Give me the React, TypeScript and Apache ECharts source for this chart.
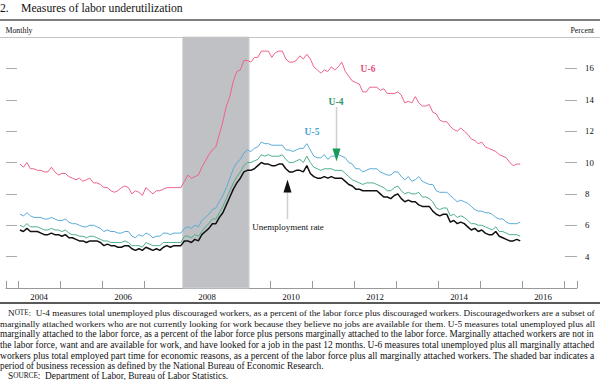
import React, { useEffect, useRef } from "react";
import * as echarts from "echarts";

const START_YEAR = 2004;

// Monthly values, Jan 2004 – Dec 2015 (percent)
const unemploymentRate = [
  5.7, 5.6, 5.8, 5.6, 5.6, 5.6, 5.5, 5.4, 5.4, 5.5, 5.4, 5.4,
  5.3, 5.4, 5.2, 5.2, 5.1, 5.0, 5.0, 4.9, 5.0, 5.0, 5.0, 4.9,
  4.7, 4.8, 4.7, 4.7, 4.6, 4.6, 4.7, 4.7, 4.5, 4.4, 4.5, 4.4,
  4.6, 4.5, 4.4, 4.5, 4.4, 4.6, 4.7, 4.6, 4.7, 4.7, 4.7, 5.0,
  5.0, 4.9, 5.1, 5.0, 5.4, 5.6, 5.8, 6.1, 6.1, 6.5, 6.8, 7.3,
  7.8, 8.3, 8.7, 9.0, 9.4, 9.5, 9.5, 9.6, 9.8, 10.0, 9.9, 9.9,
  9.8, 9.8, 9.9, 9.9, 9.6, 9.4, 9.4, 9.5, 9.5, 9.4, 9.8, 9.3,
  9.1, 9.0, 9.0, 9.1, 9.0, 9.1, 9.0, 9.0, 9.0, 8.8, 8.6, 8.5,
  8.3, 8.3, 8.2, 8.2, 8.2, 8.2, 8.2, 8.0, 7.8, 7.8, 7.7, 7.9,
  8.0, 7.7, 7.5, 7.6, 7.5, 7.5, 7.3, 7.2, 7.2, 7.2, 6.9, 6.7,
  6.6, 6.7, 6.7, 6.2, 6.3, 6.1, 6.2, 6.1, 5.9, 5.7, 5.8, 5.6,
  5.7, 5.5, 5.4, 5.4, 5.6, 5.3, 5.2, 5.1, 5.0, 5.0, 5.1, 5.0,
];

const u4 = [
  6.0, 5.9, 6.1, 5.9, 5.9, 5.9, 5.8, 5.7, 5.7, 5.8, 5.7, 5.7,
  5.6, 5.7, 5.5, 5.4, 5.4, 5.3, 5.3, 5.2, 5.3, 5.3, 5.2, 5.1,
  5.0, 5.0, 4.9, 4.9, 4.9, 4.9, 5.0, 4.9, 4.7, 4.7, 4.7, 4.6,
  4.9, 4.8, 4.7, 4.7, 4.7, 4.9, 4.9, 4.9, 4.9, 4.9, 4.9, 5.3,
  5.3, 5.2, 5.4, 5.3, 5.6, 5.9, 6.1, 6.4, 6.4, 6.8, 7.2, 7.7,
  8.2, 8.7, 9.1, 9.4, 9.8, 10.0, 10.0, 10.1, 10.2, 10.5, 10.4, 10.5,
  10.4, 10.4, 10.4, 10.5, 10.2, 10.0, 10.0, 10.1, 10.2, 10.0, 10.4, 10.0,
  9.7, 9.6, 9.5, 9.6, 9.6, 9.6, 9.5, 9.5, 9.5, 9.3, 9.1, 8.9,
  8.8, 8.7, 8.6, 8.7, 8.7, 8.7, 8.6, 8.5, 8.4, 8.2, 8.2, 8.4,
  8.5, 8.2, 8.0, 8.1, 8.0, 8.0, 8.1, 7.8, 7.8, 7.7, 7.5, 7.1,
  7.0, 7.1, 7.1, 6.6, 6.7, 6.5, 6.6, 6.5, 6.3, 6.1, 6.1, 6.0,
  6.0, 5.9, 5.8, 5.7, 5.9, 5.6, 5.6, 5.5, 5.4, 5.4, 5.4, 5.3,
];

const u5 = [
  6.7, 6.6, 6.8, 6.6, 6.5, 6.5, 6.5, 6.4, 6.4, 6.5, 6.4, 6.3,
  6.3, 6.4, 6.2, 6.1, 6.1, 6.0, 5.9, 5.9, 6.0, 6.0, 5.9, 5.8,
  5.6, 5.7, 5.6, 5.6, 5.5, 5.5, 5.6, 5.6, 5.3, 5.2, 5.4, 5.3,
  5.5, 5.4, 5.2, 5.3, 5.3, 5.5, 5.5, 5.4, 5.5, 5.5, 5.5, 5.8,
  5.9, 5.8, 6.0, 5.9, 6.3, 6.5, 6.7, 7.0, 7.1, 7.5, 7.9, 8.4,
  9.0, 9.6, 10.0, 10.2, 10.6, 10.8, 10.7, 10.9, 11.0, 11.3, 11.2, 11.2,
  11.1, 11.1, 11.1, 11.1, 10.8, 10.8, 10.7, 10.8, 10.9, 10.9, 11.2, 10.8,
  10.4, 10.3, 10.3, 10.5, 10.2, 10.4, 10.4, 10.5, 10.4, 10.3, 10.0, 9.9,
  9.6, 9.6, 9.4, 9.5, 9.6, 9.6, 9.6, 9.4, 9.3, 9.2, 9.2, 9.4,
  9.4, 9.1, 8.9, 9.1, 8.8, 8.9, 9.1, 8.8, 8.7, 8.6, 8.6, 8.2,
  8.1, 8.1, 8.1, 7.9, 7.7, 7.5, 7.6, 7.5, 7.4, 7.2, 7.0, 6.9,
  6.9, 6.8, 6.8, 6.7, 6.5, 6.4, 6.4, 6.2, 6.1, 6.1, 6.1, 6.2,
];

const u6 = [
  9.9, 9.7, 10.0, 9.6, 9.6, 9.5, 9.5, 9.4, 9.4, 9.7, 9.4, 9.2,
  9.3, 9.3, 9.1, 9.0, 8.9, 9.0, 8.8, 8.9, 9.0, 8.7, 8.7, 8.6,
  8.4, 8.4, 8.2, 8.1, 8.2, 8.4, 8.5, 8.4, 8.0, 8.2, 8.1, 7.9,
  8.4, 8.2, 8.0, 8.2, 8.2, 8.3, 8.4, 8.4, 8.4, 8.4, 8.4, 8.8,
  9.2, 9.0, 9.1, 9.2, 9.7, 10.1, 10.5, 10.8, 11.0, 11.8, 12.6, 13.6,
  14.2, 15.2, 15.8, 15.9, 16.5, 16.5, 16.4, 16.7, 16.7, 17.1, 17.1, 17.1,
  16.7, 17.0, 17.1, 17.1, 16.6, 16.4, 16.4, 16.5, 16.8, 16.6, 16.9, 16.6,
  16.1, 15.9, 15.7, 15.9, 15.8, 16.1, 15.9, 16.1, 16.4, 15.8, 15.5, 15.2,
  15.1, 15.0, 14.5, 14.5, 14.8, 14.8, 14.8, 14.6, 14.7, 14.4, 14.4, 14.4,
  14.5, 14.3, 13.8, 13.9, 13.8, 14.2, 13.8, 13.6, 13.6, 13.7, 13.2, 13.1,
  12.7, 12.6, 12.6, 12.3, 12.1, 12.0, 12.2, 12.0, 11.8, 11.5, 11.4, 11.2,
  11.3, 11.0, 10.9, 10.8, 10.7, 10.5, 10.4, 10.3, 10.0, 9.8, 9.9, 9.9,
];

const recessionStart = 2007.917;
const recessionEnd = 2009.5;
const yTickValues = [4, 6, 8, 10, 12, 14, 16];
const yearTickValues = [2004, 2005, 2006, 2007, 2008, 2009, 2010, 2011, 2012, 2013, 2014, 2015, 2016, 2017];
const yearLabelValues = [2004, 2006, 2008, 2010, 2012, 2014, 2016];

const titleNumber = "2.";
const titleText = "Measures of labor underutilization";
const noteLabel = "NOTE";
const noteLines = [
  ":  U-4 measures total unemployed plus discouraged workers, as a percent of the labor force plus discouraged workers. Discouragedworkers are a subset of",
  "marginally attached workers who are not currently looking for work because they believe no jobs are available for them. U-5 measures total unemployed plus all",
  "marginally attached to the labor force, as a percent of the labor force plus persons marginally attached to the labor force. Marginally attached workers are not in",
  "the labor force, want and are available for work, and have looked for a job in the past 12 months. U-6 measures total unemployed plus all marginally attached",
  "workers plus total employed part time for economic reasons, as a percent of the labor force plus all marginally attached workers. The shaded bar indicates a",
  "period of business recession as defined by the National Bureau of Economic Research.",
];
const sourceLabel = "SOURCE";
const sourceText = ":  Department of Labor, Bureau of Labor Statistics.";

const SERIF = "'Liberation Serif', 'Times New Roman', 'DejaVu Serif', serif";
const C_U6 = "#ee6389";
const C_U5 = "#5aaad6";
const C_U4 = "#4fae8c";
const C_UR = "#111111";

function toSeries(vals: number[]) {
  return vals.map((v, i) => [START_YEAR + (i + 0.5) / 12, v]);
}

let ctx: CanvasRenderingContext2D | null = null;
function measure(text: string, size: number, weight = "normal") {
  if (!ctx) {
    const c = document.createElement("canvas");
    ctx = c.getContext("2d");
  }
  if (!ctx) return text.length * size * 0.45;
  ctx.font = `${weight} ${size}px ${SERIF}`;
  return ctx.measureText(text).width;
}
function fitSize(text: string, width: number, weight = "normal") {
  return (width / measure(text, 10, weight)) * 10;
}
function capsWidth(label: string, rest: string) {
  return (
    measure(label[0], 10) + measure(label.slice(1), 10 * 0.78) + measure(rest, 10)
  ) / 10;
}

export default function App() {
  const ref = useRef<HTMLDivElement>(null);

  useEffect(() => {
    document.body.style.margin = "0";
    if (!ref.current) return;
    const chart = echarts.init(ref.current, undefined, { renderer: "svg" });

    const titleSize = fitSize(titleText, 162);
    const graphics: any[] = [];

    graphics.push(
      { type: "text", x: 0, y: 8, style: { text: titleNumber, fontFamily: SERIF, fontSize: titleSize, fill: "#111", verticalAlign: "middle" } },
      { type: "text", x: 21, y: 8, style: { text: titleText, fontFamily: SERIF, fontSize: titleSize, fill: "#111", verticalAlign: "middle" } },
      { type: "line", shape: { x1: 0, y1: 20, x2: 600, y2: 20 }, style: { stroke: "#555", lineWidth: 1.5 } },
      { type: "text", x: 5.5, y: 30, style: { text: "Monthly", fontFamily: SERIF, fontSize: fitSize("Monthly", 27), fill: "#111", verticalAlign: "middle" } },
      { type: "text", x: 594, y: 30, style: { text: "Percent", fontFamily: SERIF, fontSize: fitSize("Percent", 23.5), fill: "#111", align: "right", verticalAlign: "middle" } },
      { type: "line", z: 100, shape: { x1: 0, y1: 37.5, x2: 600, y2: 37.5 }, style: { stroke: "#c4c4c4", lineWidth: 1 } },
      { type: "line", shape: { x1: 0, y1: 303, x2: 600, y2: 303 }, style: { stroke: "#222", lineWidth: 1.5 } },
      // series labels
      { type: "text", x: 368, y: 69, style: { text: "U-6", fontFamily: SERIF, fontWeight: "bold", fontSize: 9.5, fill: "#e5517a", align: "center", verticalAlign: "middle" } },
      { type: "text", x: 336, y: 101.5, style: { text: "U-4", fontFamily: SERIF, fontWeight: "bold", fontSize: 9.5, fill: "#2f9a6c", align: "center", verticalAlign: "middle" } },
      { type: "text", x: 312, y: 131.5, style: { text: "U-5", fontFamily: SERIF, fontWeight: "bold", fontSize: 9.5, fill: "#4a9fd0", align: "center", verticalAlign: "middle" } },
      { type: "text", x: 288, y: 226.5, style: { text: "Unemployment rate", fontFamily: SERIF, fontSize: 9, fill: "#111", align: "center", verticalAlign: "middle" } },
      // arrows
      { type: "line", z: 50, shape: { x1: 336.5, y1: 107, x2: 336.5, y2: 150 }, style: { stroke: "#cfcfcf", lineWidth: 1.5 } },
      { type: "polygon", z: 60, shape: { points: [[332.5, 148.5], [340.5, 148.5], [336.5, 161.5]] }, style: { fill: "#179a5a" } },
      { type: "line", z: 50, shape: { x1: 287.5, y1: 192, x2: 287.5, y2: 219 }, style: { stroke: "#cfcfcf", lineWidth: 1.5 } },
      { type: "polygon", z: 60, shape: { points: [[283.5, 192.5], [291.5, 192.5], [287.5, 179.5]] }, style: { fill: "#111" } }
    );

    // Note lines
    const noteTop = 313;
    const step = 10.5;
    const right = 595;
    const s0 = (right - 8) / capsWidth(noteLabel, noteLines[0]);
    const sizes: number[] = [s0];
    for (let i = 1; i < 5; i++) sizes.push(fitSize(noteLines[i], right));
    const avg = sizes.reduce((a, b) => a + b, 0) / sizes.length;
    sizes.push(avg);
    noteLines.forEach((line, i) => {
      const s = sizes[i];
      if (i === 0) {
        graphics.push({
          type: "text", x: 8, y: noteTop,
          style: {
            text: `{a|${noteLabel[0]}}{b|${noteLabel.slice(1)}}{a|${line}}`,
            verticalAlign: "middle",
            rich: {
              a: { fontFamily: SERIF, fontSize: s, fill: "#111" },
              b: { fontFamily: SERIF, fontSize: s * 0.78, fill: "#111" },
            },
          },
        });
      } else {
        graphics.push({
          type: "text", x: 0, y: noteTop + step * i,
          style: { text: line, fontFamily: SERIF, fontSize: s, fill: "#111", verticalAlign: "middle" },
        });
      }
    });
    graphics.push({
      type: "text", x: 8, y: noteTop + step * 6,
      style: {
        text: `{a|${sourceLabel[0]}}{b|${sourceLabel.slice(1)}}{a|${sourceText}}`,
        verticalAlign: "middle",
        rich: {
          a: { fontFamily: SERIF, fontSize: avg, fill: "#111" },
          b: { fontFamily: SERIF, fontSize: avg * 0.78, fill: "#111" },
        },
      },
    });

    const lineSeries = (name: string, vals: number[], color: string, width: number, z: number) => ({
      name,
      type: "line",
      data: toSeries(vals),
      showSymbol: false,
      symbol: "none",
      z,
      lineStyle: { color, width },
      emphasis: { disabled: true },
    });

    chart.setOption({
      animation: false,
      grid: { left: 6, right: 23, top: 37, bottom: 92 },
      xAxis: {
        type: "value",
        min: 2003.71,
        max: 2017.31,
        axisLine: { show: true, lineStyle: { color: "#999", width: 1 } },
        axisTick: {
          show: true,
          inside: true,
          length: 7,
          customValues: [2003.71, ...yearTickValues, 2017.31],
          lineStyle: { color: "#999", width: 1 },
        },
        axisLabel: {
          customValues: yearLabelValues.map((y) => y + 0.5),
          formatter: (v: number) => String(Math.floor(v)),
          fontFamily: SERIF,
          fontSize: 8.8,
          color: "#111",
          margin: 4,
        },
        splitLine: { show: false },
      },
      yAxis: [
        {
          type: "value",
          position: "right",
          min: 2,
          max: 18,
          axisLine: { show: false },
          axisTick: { show: true, inside: true, length: 12, customValues: yTickValues, lineStyle: { color: "#aaa" } },
          axisLabel: { customValues: yTickValues, fontFamily: SERIF, fontSize: 8.8, color: "#111", margin: 8 },
          splitLine: { show: false },
        },
        {
          type: "value",
          position: "left",
          min: 2,
          max: 18,
          axisLine: { show: false },
          axisTick: { show: true, inside: true, length: 11, customValues: yTickValues, lineStyle: { color: "#aaa" } },
          axisLabel: { show: false },
          splitLine: { show: false },
        },
      ],
      series: [
        {
          name: "recession",
          type: "line",
          data: [],
          z: 1,
          markArea: {
            silent: true,
            itemStyle: { color: "#c0c1c4", borderColor: "#d4d5d7", borderWidth: 1 },
            data: [[{ xAxis: recessionStart }, { xAxis: recessionEnd }]],
          },
        },
        lineSeries("U-6", u6, C_U6, 1, 3),
        lineSeries("U-5", u5, C_U5, 1, 3),
        lineSeries("U-4", u4, C_U4, 1, 3),
        lineSeries("Unemployment rate", unemploymentRate, C_UR, 1.5, 4),
      ],
      graphic: graphics,
    });

    return () => chart.dispose();
  }, []);

  return (
    <div
      ref={ref}
      style={{ position: "fixed", left: 0, top: 0, width: 600, height: 380, background: "#fff" }}
    />
  );
}
